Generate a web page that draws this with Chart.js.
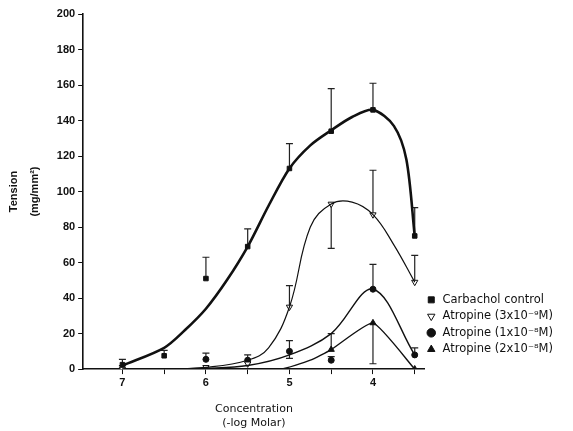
<!DOCTYPE html>
<html>
<head>
<meta charset="utf-8">
<title>Tension vs concentration</title>
<script src="https://cdn.jsdelivr.net/npm/chart.js@4.4.1/dist/chart.umd.min.js"></script>
<style>
  html, body { margin: 0; padding: 0; background: #fff; }
  .chart-wrapper { width: 573px; height: 431px; }
</style>
</head>
<body>
<div class="chart-wrapper"><canvas id="myChart"></canvas></div>
<script>
// concentrations where tension was measured (-log Molar)
const doses = [7, 6.5, 6, 5.5, 5, 4.5, 4, 3.5];

// measured means + error bar ends (mg/mm2), null = nothing drawn
const carbMean  = [2.5, 7.5, 51, 69, 113, 134, 146, 75];
const carbErrHi = [5.5, 10.5, 63, 79, 127, 158, 161, 91];
const carbErrLo = [null, null, null, null, null, null, null, null];

const atr3Mean  = [0, null, 1, 3, 35, 93, 87, 49];
const atr3ErrHi = [2, null, null, null, 47, null, 112, 64];
const atr3ErrLo = [null, null, null, null, null, 68, null, null];

const atr10Mean  = [null, null, 5.5, 5, 10, 5, 45, 8];
const atr10ErrHi = [null, null, 9, 8, 16, 7, 59, 12];
const atr10ErrLo = [null, null, null, null, 6, null, null, null];

const atr20Mean  = [null, null, null, null, null, 11, 26, 0];
const atr20ErrHi = [null, null, null, null, null, 20, null, null];
const atr20ErrLo = [null, null, null, null, null, null, 3, null];

// hand drawn curves
const carbFitX = [7, 6.5, 6.25, 6, 5.75, 5.5, 5.25, 5, 4.75, 4.5, 4.25, 4, 3.75, 3.6, 3.5];
const carbFitY = [2, 12, 22, 34, 50, 69, 92, 113, 126, 134.5, 142, 146, 137, 118, 75];
const atr3FitX = [7, 6.5, 6, 5.5, 5.25, 5, 4.75, 4.5, 4.25, 4, 3.75, 3.5];
const atr3FitY = [0, 0, 1, 5, 12, 35, 80, 93, 94, 87, 70, 49];
const atr10FitX = [7, 6.5, 6, 5.5, 5, 4.5, 4, 3.5];
const atr10FitY = [0, 0, 0.5, 2, 8, 20, 45, 8];
const atr20FitX = [7, 5.1, 4.75, 4.5, 4, 3.5];
const atr20FitY = [0, 0, 5, 11, 26, 0];

const labels = [
  'Carbachol control',
  'Atropine (3x10\u207B\u2079M)',
  'Atropine (1x10\u207B\u2078M)',
  'Atropine (2x10\u207B\u2078M)'
];

const ink = '#111';
const fontFamily = '"Liberation Sans", Arial, Helvetica, sans-serif';
const wideFamily = '"DejaVu Sans", Verdana, sans-serif';

function pts(xs, ys) {
  return xs.map((x, i) => ({x: x, y: ys[i]}));
}

function fitLine(xs, ys, width, tension) {
  return {
    type: 'line', isFit: true, label: '',
    data: pts(xs, ys),
    borderColor: ink, borderWidth: width,
    pointRadius: 0, fill: false,
    tension: tension
  };
}

function markers(label, mean, hi, lo, style, fillCol, radius, rot) {
  return {
    type: 'scatter', label: label,
    data: pts(doses, mean),
    errHi: hi, errLo: lo,
    pointStyle: style, pointRotation: rot || 0,
    pointRadius: radius, pointHoverRadius: radius,
    backgroundColor: fillCol, borderColor: ink, borderWidth: 1
  };
}

// vertical error bars with a cap on the far end
const errorBars = {
  id: 'errorBars',
  beforeDatasetsDraw(chart) {
    const ctx = chart.ctx;
    const xs = chart.scales.x, ys = chart.scales.y;
    ctx.save();
    ctx.strokeStyle = '#222';
    ctx.lineWidth = 1.2;
    chart.data.datasets.forEach(ds => {
      if (!ds.errHi) return;
      ds.data.forEach((p, i) => {
        if (p.y == null) return;
        [ds.errHi[i], ds.errLo[i]].forEach(end => {
          if (end == null) return;
          const px = xs.getPixelForValue(p.x);
          const y0 = ys.getPixelForValue(p.y);
          const y1 = ys.getPixelForValue(end);
          ctx.beginPath();
          ctx.moveTo(px, y0);
          ctx.lineTo(px, y1);
          ctx.moveTo(px - 3.5, y1);
          ctx.lineTo(px + 3.5, y1);
          ctx.stroke();
        });
      });
    });
    ctx.restore();
  }
};

// nudge the legend up and left, closer to the plot
const legendLift = {
  id: 'legendLift',
  afterLayout(chart) {
    const lg = chart.legend;
    if (lg) {
      lg.top -= 9;
      lg.bottom -= 9;
      lg.left -= 4;
      lg.right -= 4;
    }
  }
};

const ctx = document.getElementById('myChart').getContext('2d');
const chart = new Chart(ctx, {
  data: {
    datasets: [
      fitLine(carbFitX, carbFitY, 2.6, 0.3),
      fitLine(atr3FitX, atr3FitY, 1.2, 0.4),
      fitLine(atr10FitX, atr10FitY, 1.4, 0.35),
      fitLine(atr20FitX, atr20FitY, 1.4, 0.15),
      markers(labels[0], carbMean, carbErrHi, carbErrLo, 'rect', ink, 3.2),
      markers(labels[1], atr3Mean, atr3ErrHi, atr3ErrLo, 'triangle', '#fff', 3.6, 180),
      markers(labels[2], atr10Mean, atr10ErrHi, atr10ErrLo, 'circle', ink, 3),
      markers(labels[3], atr20Mean, atr20ErrHi, atr20ErrLo, 'triangle', ink, 3.6)
    ]
  },
  options: {
    responsive: true,
    maintainAspectRatio: false,
    animation: false,
    layout: { padding: { top: 14, left: 4, right: 8, bottom: 0 } },
    plugins: {
      legend: {
        position: 'right',
        align: 'end',
        fullSize: false,
        labels: {
          filter: (item, data) => !data.datasets[item.datasetIndex].isFit,
          usePointStyle: true,
          boxWidth: 11,
          boxHeight: 6,
          padding: 5,
          color: ink,
          font: { family: wideFamily, size: 11.5 }
        }
      },
      tooltip: { enabled: false }
    },
    scales: {
      x: {
        type: 'linear',
        reverse: true,
        min: 3.38,
        max: 7.47,
        ticks: {
          stepSize: 0.5,
          includeBounds: false,
          autoSkip: false,
          maxRotation: 0,
          padding: 2,
          color: ink,
          font: { family: fontFamily, size: 11, weight: 'bold' },
          callback: v => Number.isInteger(v) ? String(v) : ''
        },
        grid: { drawOnChartArea: false, tickLength: 5, color: ink },
        border: { color: ink, width: 1.6 },
        title: {
          display: true,
          text: ['Concentration', '(-log Molar)'],
          color: ink,
          font: { family: wideFamily, size: 11, lineHeight: 1.35 },
          padding: { top: 10, bottom: 0 }
        }
      },
      y: {
        min: 0,
        max: 200,
        ticks: {
          stepSize: 20,
          color: ink,
          font: { family: fontFamily, size: 11, weight: 'bold' }
        },
        grid: { drawOnChartArea: false, tickLength: 5, color: ink },
        border: { color: ink, width: 1.6 },
        title: {
          display: true,
          text: ['Tension', '(mg/mm\u00B2)'],
          color: ink,
          font: { family: fontFamily, size: 11, weight: 'bold', lineHeight: 1.9 },
          padding: { top: 0, bottom: 8 }
        }
      }
    }
  },
  plugins: [errorBars, legendLift]
});
</script>
</body>
</html>
